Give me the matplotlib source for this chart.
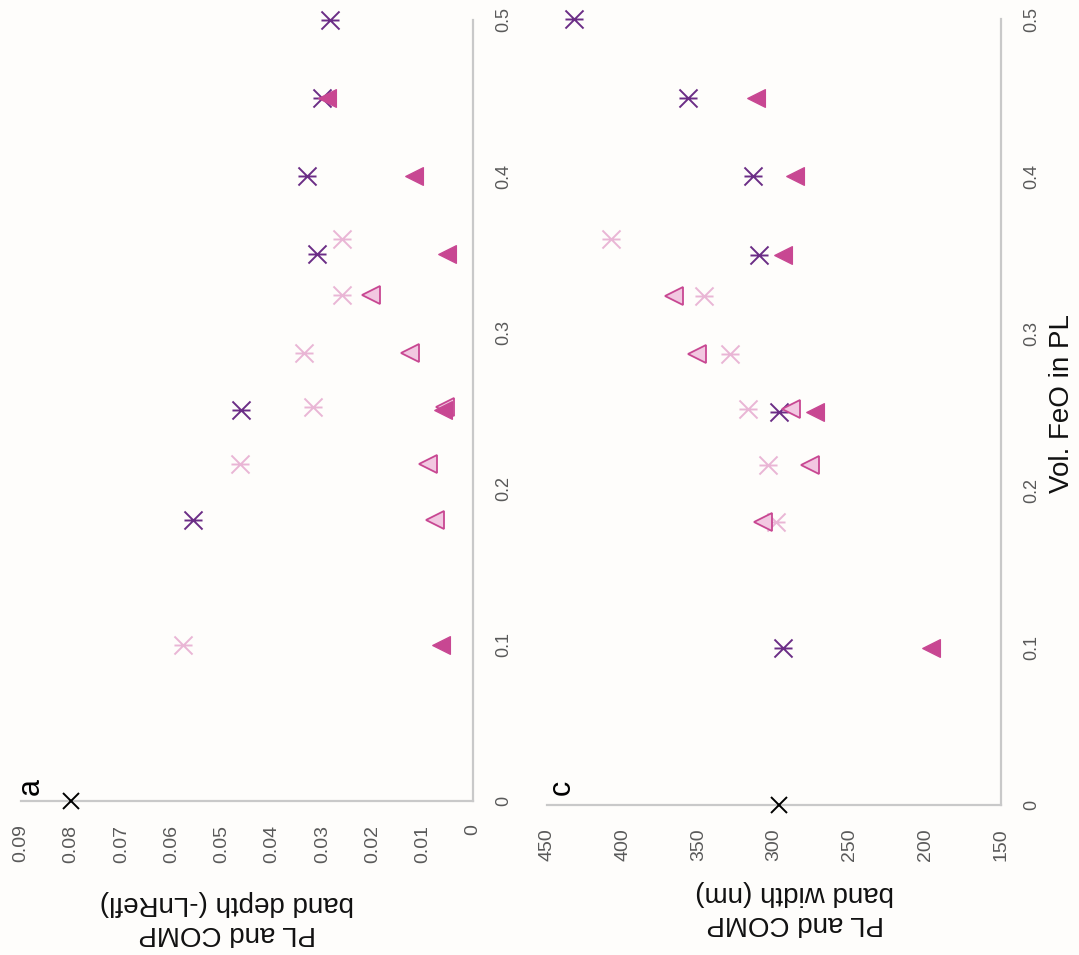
import matplotlib
matplotlib.use('Agg')
import matplotlib.pyplot as plt
from matplotlib.path import Path
import numpy as np

# ---------------- data ----------------
# reference point (FeO = 0)
feo_ref = [0.0]
depth_ref = [0.080]
width_ref = [297]

# panel a : band depth (-LnRefl)
feo_lstar_a = [0.10, 0.216, 0.252, 0.287, 0.324, 0.36]
depth_lstar = [0.0577, 0.0464, 0.0318, 0.0337, 0.0260, 0.0260]
feo_dstar_a = [0.18, 0.25, 0.35, 0.40, 0.45, 0.50]
depth_dstar = [0.0558, 0.0461, 0.0311, 0.0331, 0.0301, 0.0285]
feo_tri_a = [0.10, 0.25, 0.35, 0.40, 0.45]
depth_tri = [0.0064, 0.0060, 0.0052, 0.0118, 0.0291]
feo_ltri_a = [0.18, 0.216, 0.252, 0.287, 0.324]
depth_ltri = [0.0076, 0.0090, 0.0056, 0.0125, 0.0203]

# panel c : band width (nm)
feo_lstar_c = [0.18, 0.216, 0.252, 0.287, 0.324, 0.36]
width_lstar = [299, 304, 317, 329, 346, 408]
feo_dstar_c = [0.10, 0.25, 0.35, 0.40, 0.45, 0.50]
width_dstar = [294, 297, 310, 314, 357, 432]
feo_tri_c = [0.10, 0.25, 0.35, 0.40, 0.45]
width_tri = [196, 273, 294, 286, 312]
feo_ltri_c = [0.18, 0.216, 0.252, 0.287, 0.324]
width_ltri = [307, 276, 289, 351, 366]

feo_ticks = [0, 0.1, 0.2, 0.3, 0.4, 0.5]
feo_ticklabels = ['0', '0.1', '0.2', '0.3', '0.4', '0.5']
depth_ticks = [0, 0.01, 0.02, 0.03, 0.04, 0.05, 0.06, 0.07, 0.08, 0.09]
depth_ticklabels = ['0', '0.01', '0.02', '0.03', '0.04', '0.05', '0.06', '0.07', '0.08', '0.09']
width_ticks = [150, 200, 250, 300, 350, 400, 450]
width_ticklabels = ['150', '200', '250', '300', '350', '400', '450']

# ---------------- style ----------------
plt.rcParams['font.family'] = ['Liberation Sans', 'DejaVu Sans']
W, H, DPI = 1079, 955, 100
BG = '#fefdfb'
C_DARK = '#6b2d86'
C_LIGHT = '#e9b6d5'
C_MAG = '#c84792'
C_LTRI = '#f2c8e1'
C_AXIS = '#c9c9c9'
C_TICK = '#595959'

star = Path([(-1, -1), (1, 1), (-1, 1), (1, -1), (-1, 0), (1, 0)],
            [Path.MOVETO, Path.LINETO] * 3)

fig = plt.figure(figsize=(W / DPI, H / DPI), dpi=DPI, facecolor=BG)


def make_ax(x0, x1, y0, y1):
    return fig.add_axes([x0 / W, 1 - y1 / H, (x1 - x0) / W, (y1 - y0) / H])


def style(ax, xt, xtl):
    ax.set_facecolor(BG)
    for s in ['top', 'left']:
        ax.spines[s].set_visible(False)
    for s in ['bottom', 'right']:
        ax.spines[s].set_color(C_AXIS)
        ax.spines[s].set_linewidth(1.6)
    ax.yaxis.tick_right()
    ax.set_yticks(feo_ticks)
    ax.set_yticklabels(feo_ticklabels, rotation=90, va='center', ha='left')
    ax.set_xticks(xt)
    ax.set_xticklabels(xtl, rotation=90, va='top', ha='center')
    ax.tick_params(axis='x', length=0, pad=17, labelsize=14, labelcolor=C_TICK)
    ax.tick_params(axis='y', length=0, pad=16, labelsize=13, labelcolor=C_TICK)


def draw(ax, ref, ls_x, ls_f, ds_x, ds_f, t_x, t_f, lt_x, lt_f):
    ax.plot(ref, feo_ref, ls='none', marker='x', ms=12, mew=1.4, color='black', clip_on=False, zorder=5)
    ax.plot(ls_x, ls_f, ls='none', marker=star, ms=13, mew=1.4, color=C_LIGHT,
            mfc='none', clip_on=False, zorder=3)
    ax.plot(ds_x, ds_f, ls='none', marker=star, ms=13, mew=1.4, color=C_DARK,
            mfc='none', clip_on=False, zorder=3)
    ax.plot(lt_x, lt_f, ls='none', marker='<', ms=13, mew=1.3, mfc=C_LTRI, mec=C_MAG,
            clip_on=False, zorder=4)
    ax.plot(t_x, t_f, ls='none', marker='<', ms=13, mew=0.8, mfc=C_MAG, mec=C_MAG,
            clip_on=False, zorder=4)


axa = make_ax(21, 473, 20, 801)
axa.set_xlim(0.09, 0)
axa.set_ylim(0, 0.5)
style(axa, depth_ticks, depth_ticklabels)
draw(axa, depth_ref, depth_lstar, feo_lstar_a, depth_dstar, feo_dstar_a,
     depth_tri, feo_tri_a, depth_ltri, feo_ltri_a)

axc = make_ax(547, 1001, 19, 805)
axc.set_xlim(450, 150)
axc.set_ylim(0, 0.5)
style(axc, width_ticks, width_ticklabels)
draw(axc, width_ref, width_lstar, feo_lstar_c, width_dstar, feo_dstar_c,
     width_tri, feo_tri_c, width_ltri, feo_ltri_c)


def ftext(x, y, s, **kw):
    fig.text(x / W, 1 - y / H, s, **kw)


ftext(227, 918, 'PL and COMP\nband depth (-LnRefl)', rotation=180, ha='center', va='center',
      multialignment='center', fontsize=20, color='#111111')
ftext(795, 908, 'PL and COMP\nband width (nm)', rotation=180, ha='center', va='center',
      multialignment='center', fontsize=20, color='#111111')
ftext(1062, 404, 'Vol. FeO in PL', rotation=90, ha='center', va='center', fontsize=20, color='#111111')
ftext(31, 786, 'a', rotation=90, ha='center', va='center', fontsize=22, color='black')
ftext(562, 787, 'c', rotation=90, ha='center', va='center', fontsize=22, color='black')

fig.savefig('out.png', dpi=DPI, facecolor=BG)
